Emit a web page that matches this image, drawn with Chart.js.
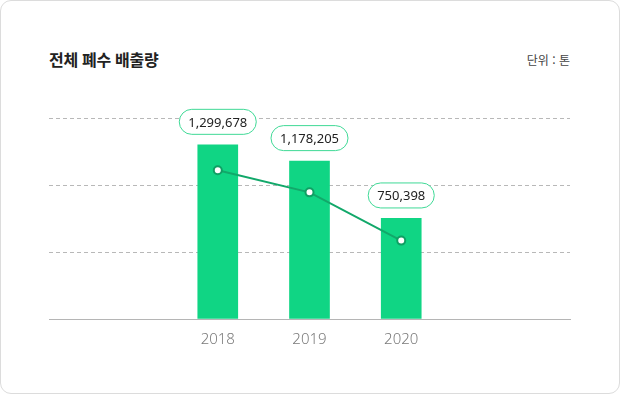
<!DOCTYPE html>
<html lang="ko">
<head>
<meta charset="utf-8">
<script src="https://cdn.jsdelivr.net/npm/chart.js@4.4.1/dist/chart.umd.min.js"></script>
<style>
  html, body { margin: 0; padding: 0; background: #fff; }
  .card {
    position: absolute; left: 0; top: 0;
    width: 618px; height: 392px;
    border: 1px solid #dcdcdc; border-radius: 11px;
    background: #fff;
  }
  .title {
    position: absolute; left: 49px; top: 47px;
    font-family: "Noto Sans CJK KR", sans-serif; font-weight: 700;
    font-size: 16px; color: #222; letter-spacing: -0.3px;
  }
  .unit {
    position: absolute; right: 50px; top: 51px;
    font-family: "Noto Sans CJK KR", sans-serif;
    font-size: 12px; color: #444;
  }
  .wrap { position: absolute; left: 0; top: 0; width: 620px; height: 394px; }
</style>
</head>
<body>
<div class="card"></div>
<div class="title">전체 폐수 배출량</div>
<div class="unit">단위 : 톤</div>
<div class="wrap"><canvas id="wasteChart" width="620" height="394"></canvas></div>
<script>
const years = [2018, 2019, 2020];
const emissions = [1299678, 1178205, 750398];
const trendValues = [1110000, 945000, 585000];
const yTicks = [0, 500000, 1000000, 1500000];

const ctx = document.getElementById('wasteChart').getContext('2d');

// pill labels above bars
const pillLabels = {
  id: 'pillLabels',
  afterDatasetsDraw(chart) {
    const meta = chart.getDatasetMeta(1);
    const c = chart.ctx;
    c.save();
    c.font = '13px "Noto Sans", sans-serif';
    c.textAlign = 'center';
    c.textBaseline = 'middle';
    meta.data.forEach((bar, i) => {
      const text = emissions[i].toLocaleString('en-US');
      const w = c.measureText(text).width + 18;
      const h = 25;
      const cx = bar.x;
      const cy = bar.y - 23;
      c.beginPath();
      c.roundRect(cx - w / 2, cy - h / 2, w, h, h / 2);
      c.fillStyle = '#fff';
      c.fill();
      c.lineWidth = 1;
      c.strokeStyle = '#3fd996';
      c.stroke();
      c.fillStyle = '#222';
      c.fillText(text, cx, cy + 1);
    });
    c.restore();
  }
};

new Chart(ctx, {
  data: {
    datasets: [{
      type: 'line',
      data: years.map((y, i) => ({ x: y, y: trendValues[i] })),
      borderColor: '#12a86a',
      borderWidth: 2,
      pointRadius: 4,
      pointBorderWidth: 2,
      pointBackgroundColor: '#fff',
      pointBorderColor: '#0f9f63',
      tension: 0,
      order: 0
    }, {
      type: 'bar',
      data: years.map((y, i) => ({ x: y, y: emissions[i] })),
      backgroundColor: '#10d584',
      barThickness: 40,
      order: 1
    }]
  },
  options: {
    responsive: false,
    animation: false,
    layout: { padding: { left: 49, right: 50, top: 118, bottom: 33 } },
    plugins: {
      legend: { display: false },
      tooltip: { enabled: false }
    },
    scales: {
      x: {
        type: 'linear',
        offset: false,
        min: 2016.16,
        max: 2021.84,
        afterBuildTicks: axis => { axis.ticks = years.map(v => ({ value: v })); },
        grid: { display: false, drawTicks: false },
        border: { display: true, color: '#b5b5b5', width: 1 },
        ticks: {
          padding: 12,
          color: '#7a7a7a',
          font: { family: '"Noto Sans", sans-serif', size: 15, weight: 300 },
          callback: v => String(v)
        }
      },
      y: {
        min: 0,
        max: 1500000,
        afterBuildTicks: axis => { axis.ticks = yTicks.map(v => ({ value: v })); },
        ticks: { display: false },
        grid: {
          color: ctx => ctx.tick.value === 0 ? 'rgba(0,0,0,0)' : '#b8b8b8',
          drawTicks: false,
          lineWidth: 1
        },
        border: { display: false, dash: [4, 3] }
      }
    }
  },
  plugins: [pillLabels]
});
</script>
</body>
</html>
